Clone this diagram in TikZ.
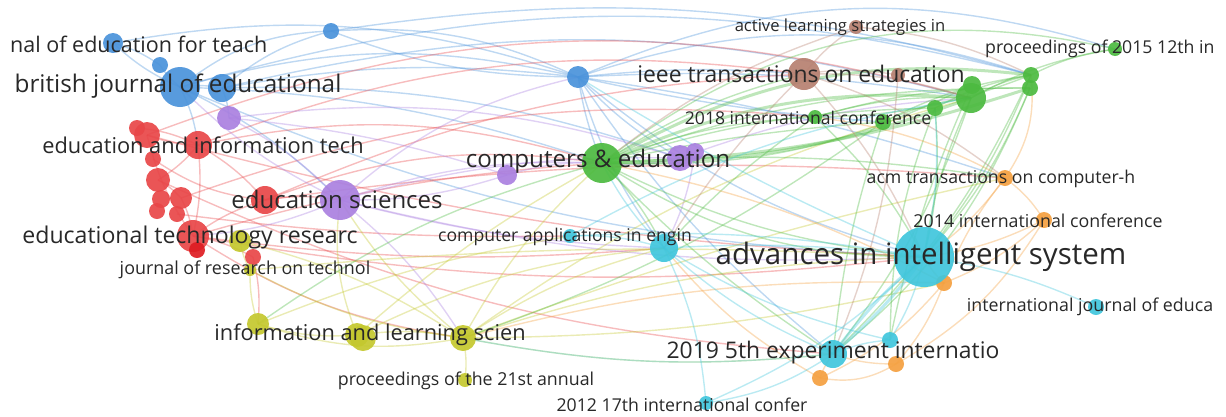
\documentclass[tikz,border=0pt]{standalone}
\usepackage{fontspec}
\setmainfont{Open Sans}
\usetikzlibrary{backgrounds}
\definecolor{cblue}{RGB}{74,146,218}
\definecolor{cred}{RGB}{232,70,72}
\definecolor{cgreen}{RGB}{76,186,64}
\definecolor{cyel}{RGB}{196,200,46}
\definecolor{cpur}{RGB}{170,128,224}
\definecolor{ccyan}{RGB}{64,198,220}
\definecolor{corange}{RGB}{244,160,64}
\definecolor{cbrown}{RGB}{182,128,112}
\definecolor{cdred}{RGB}{222,28,34}
\definecolor{labc}{RGB}{40,40,40}
\tikzset{
  nd/.style={circle, inner sep=0pt, minimum size=#1, fill opacity=0.92},
  lab/.style={font=\fontsize{#1}{#1}\selectfont, text=labc, inner sep=0pt},
  e/.style={draw=#1, draw opacity=0.36, line width=1.4pt},
  ew/.style={draw=#1, draw opacity=0.36, line width=3pt}
}
\begin{document}
\begin{tikzpicture}[x=1pt,y=-1pt, every to/.style={bend left=9}]
\useasboundingbox (0,0) rectangle (1226,416);
% ---------- nodes ----------
% blue
\node[nd=20, fill=cblue] (b1) at (113,43) {};
\node[nd=16, fill=cblue] (b2) at (160,65) {};
\node[nd=40, fill=cblue] (b3) at (180,87) {};
\node[nd=28, fill=cblue] (b4) at (222,88) {};
\node[nd=16, fill=cblue] (b5) at (331,31) {};
\node[nd=22, fill=cblue] (b6) at (578,77) {};
% purple
\node[nd=24, fill=cpur] (p1) at (229,118) {};
\node[nd=40, fill=cpur] (p2) at (340,200) {};
\node[nd=20, fill=cpur] (p3) at (507,175) {};
\node[nd=26, fill=cpur] (p4) at (680,158) {};
\node[nd=18, fill=cpur] (p5) at (695,152) {};
% red
\node[nd=16, fill=cred] (r1) at (137,128) {};
\node[nd=26, fill=cred] (r2) at (147,135) {};
\node[nd=28, fill=cred] (r3) at (198,145) {};
\node[nd=16, fill=cred] (r4) at (153,159) {};
\node[nd=24, fill=cred] (r5) at (158,180) {};
\node[nd=18, fill=cred] (r6) at (161,199) {};
\node[nd=22, fill=cred] (r7) at (181,198) {};
\node[nd=16, fill=cred] (r8) at (157,211) {};
\node[nd=16, fill=cred] (r9) at (177,214) {};
\node[nd=28, fill=cred] (r10) at (265,200) {};
\node[nd=32, fill=cred] (r11) at (193,236) {};
\node[nd=16, fill=cdred] (r12) at (197,250) {};
\node[nd=16, fill=cred] (r13) at (253,257) {};
% yellow
\node[nd=22, fill=cyel] (y1) at (240,241) {};
\node[nd=12, fill=cyel] (y2) at (250,270) {};
\node[nd=22, fill=cyel] (y3) at (258,324) {};
\node[nd=24, fill=cyel] (y4) at (357,335) {};
\node[nd=26, fill=cyel] (y5) at (363,338) {};
\node[nd=26, fill=cyel] (y6) at (463,338) {};
\node[nd=14, fill=cyel] (y7) at (465,380) {};
% green
\node[nd=40, fill=cgreen] (g1) at (602,163) {};
\node[nd=14, fill=cgreen] (g2) at (815,117) {};
\node[nd=16, fill=cgreen] (g3) at (883,122) {};
\node[nd=16, fill=cgreen] (g4) at (935,108) {};
\node[nd=30, fill=cgreen] (g5) at (971,98) {};
\node[nd=18, fill=cgreen] (g6) at (972,85) {};
\node[nd=16, fill=cgreen] (g7) at (1031,75) {};
\node[nd=16, fill=cgreen] (g8) at (1030,88) {};
\node[nd=14, fill=cgreen] (g9) at (1115,49) {};
% brown
\node[nd=32, fill=cbrown] (br1) at (804,74) {};
\node[nd=14, fill=cbrown] (br2) at (856,27) {};
\node[nd=14, fill=cbrown] (br3) at (898,75) {};
% orange
\node[nd=16, fill=corange] (o1) at (1005,178) {};
\node[nd=16, fill=corange] (o2) at (1044,220) {};
\node[nd=16, fill=corange] (o3) at (944,283) {};
\node[nd=16, fill=corange] (o4) at (896,364) {};
\node[nd=16, fill=corange] (o5) at (820,378) {};
% cyan
\node[nd=60, fill=ccyan] (c1) at (924,257) {};
\node[nd=14, fill=ccyan] (c2) at (570,236) {};
\node[nd=28, fill=ccyan] (c3) at (664,248) {};
\node[nd=16, fill=ccyan] (c4) at (1096,307) {};
\node[nd=28, fill=ccyan] (c5) at (833,354) {};
\node[nd=16, fill=ccyan] (c6) at (890,340) {};
\node[nd=14, fill=ccyan] (c7) at (706,403) {};
% ---------- edges ----------
\begin{scope}[on background layer]
% blue
\draw[e=cblue] (b3.center) to (b1.center);
\draw[e=cblue] (b3.center) to (b2.center);
\draw[e=cblue] (b3.center) to (b4.center);
\draw[e=cblue] (b1.center) to (b2.center);
\draw[e=cblue] (b3.center) to[bend left=14] (b6.center);
\draw[e=cblue] (b4.center) to[bend left=8] (b6.center);
\draw[e=cblue] (b3.center) to[bend left=18] (b5.center);
\draw[e=cblue] (b4.center) to[bend left=12] (b5.center);
\draw[e=cblue] (b5.center) to[bend left=14] (b6.center);
\draw[e=cblue] (b5.center) to[bend right=10] (b6.center);
\draw[e=cblue] (b3.center) to[bend left=8] (g1.center);
\draw[e=cblue] (b3.center) to[bend left=15] (g7.center);
\draw[e=cblue] (b4.center) to[bend left=14] (g5.center);
\draw[e=cblue] (b6.center) to[bend right=6] (g1.center);
\draw[e=cblue] (b6.center) to[bend right=10] (c3.center);
\draw[e=cblue] (b6.center) to[bend right=12] (c1.center);
\draw[e=cblue] (b6.center) to[bend left=18] (g7.center);
\draw[e=cblue] (b6.center) to[bend left=6] (g5.center);
\draw[e=cblue] (b5.center) to[bend left=12] (g7.center);
\draw[e=cblue] (b3.center) to (p2.center);
\draw[e=cblue] (b4.center) to (p1.center);
\draw[e=cblue] (b3.center) to (r3.center);
\draw[e=cblue] (b6.center) to[bend right=8] (p4.center);
\draw[e=cblue] (b6.center) to[bend left=5] (br1.center);
\draw[e=cblue] (b1.center) to[bend left=14] (b6.center);
\draw[e=cblue] (b6.center) to[bend left=5] (o1.center);
\draw[e=cblue] (b6.center) to[bend right=8] (c5.center);
\draw[e=cblue] (b4.center) to[bend left=10] (p4.center);
\draw[e=cblue] (b3.center) to[bend right=10] (c1.center);
\draw[e=cblue] (b6.center) to[bend left=20] (g9.center);
\draw[e=cblue] (b6.center) to[bend right=4] (g3.center);
% red
\draw[e=cred] (r3.center) to (r2.center);
\draw[e=cred] (r3.center) to (r5.center);
\draw[e=cred] (r3.center) to (r11.center);
\draw[e=cred] (r3.center) to (r10.center);
\draw[e=cred] (r11.center) to (r10.center);
\draw[e=cred] (r11.center) to (r13.center);
\draw[e=cred] (r5.center) to (r7.center);
\draw[e=cred] (r7.center) to (r11.center);
\draw[e=cred] (r2.center) to[bend right=10] (r11.center);
\draw[e=cred] (r4.center) to[bend right=14] (r10.center);
\draw[e=cred] (r1.center) to[bend left=10] (r3.center);
\draw[e=cred] (r10.center) to[bend left=14] (g1.center);
\draw[e=cred] (r3.center) to[bend left=14] (g1.center);
\draw[e=cred] (r3.center) to[bend left=14] (br1.center);
\draw[e=cred] (r2.center) to[bend left=18] (g5.center);
\draw[e=cred] (r11.center) to[bend right=8] (c1.center);
\draw[e=cred] (r11.center) to[bend left=6] (g1.center);
\draw[e=cred] (r10.center) to (p2.center);
\draw[e=cred] (r13.center) to (y3.center);
\draw[e=cred] (r11.center) to[bend right=6] (c3.center);
\draw[e=cred] (r7.center) to[bend left=12] (g2.center);
\draw[e=cred] (r10.center) to[bend left=10] (br1.center);
\draw[e=cred] (r5.center) to[bend right=10] (c5.center);
\draw[e=cred] (r9.center) to[bend right=4] (c2.center);
\draw[e=cred] (r2.center) to[bend right=6] (c1.center);
\draw[e=cred] (r10.center) to[bend left=6] (o1.center);
\draw[e=cred] (r11.center) to[bend right=12] (y6.center);
% purple
\draw[e=cpur] (p2.center) to[bend left=10] (g1.center);
\draw[e=cpur] (p2.center) to[bend left=8] (p4.center);
\draw[e=cpur] (p2.center) to (b3.center);
\draw[e=cpur] (p2.center) to (r11.center);
\draw[e=cpur] (p2.center) to[bend right=6] (c3.center);
\draw[e=cpur] (p2.center) to[bend right=8] (c1.center);
\draw[e=cpur] (p1.center) to[bend left=12] (p4.center);
\draw[e=cpur] (p3.center) to (g1.center);
\draw[e=cpur] (p3.center) to (p2.center);
\draw[e=cpur] (p4.center) to (g1.center);
\draw[e=cpur] (p4.center) to[bend left=8] (g5.center);
\draw[e=cpur] (p2.center) to (y6.center);
\draw[e=cpur] (p1.center) to (p2.center);
\draw[e=cpur] (p5.center) to (c3.center);
\draw[e=cpur] (p2.center) to[bend left=14] (b6.center);
\draw[e=cpur] (p1.center) to[bend left=6] (p3.center);
% yellow
\draw[e=cyel] (y3.center) to (y2.center);
\draw[e=cyel] (y3.center) to[bend right=10] (y4.center);
\draw[e=cyel] (y4.center) to (y6.center);
\draw[e=cyel] (y6.center) to (y7.center);
\draw[e=cyel] (y6.center) to[bend left=10] (y2.center);
\draw[e=cyel] (y6.center) to (g1.center);
\draw[e=cyel] (y6.center) to[bend left=8] (c1.center);
\draw[e=cyel] (y6.center) to (c3.center);
\draw[e=cyel] (y6.center) to (p2.center);
\draw[e=cyel] (y1.center) to (y6.center);
\draw[e=cyel] (y6.center) to[bend right=8] (c5.center);
\draw[e=cyel] (y4.center) to[bend left=6] (g1.center);
\draw[e=cyel] (y3.center) to[bend right=14] (y6.center);
\draw[e=cyel] (y2.center) to[bend left=4] (c1.center);
\draw[e=cyel] (y6.center) to[bend left=10] (g5.center);
\draw[e=cyel] (y3.center) to[bend left=6] (c2.center);
\draw[e=cyel] (y4.center) to[bend left=14] (p2.center);
\draw[e=cyel] (y2.center) to (y1.center);
\draw[e=cyel] (y6.center) to[bend right=6] (o3.center);
\draw[e=cyel] (y6.center) to[bend left=4] (o1.center);
\draw[e=cyel] (y4.center) to[bend left=10] (c3.center);
% green
\draw[ew=cgreen] (g1.center) to[bend left=14] (g5.center);
\draw[ew=cgreen] (g1.center) to[bend right=10] (g5.center);
\draw[ew=cgreen] (g1.center) to[bend left=18] (g7.center);
\draw[ew=cgreen] (g1.center) to[bend right=8] (g8.center);
\draw[e=cgreen] (g1.center) to (g2.center);
\draw[e=cgreen] (g1.center) to[bend left=4] (g3.center);
\draw[e=cgreen] (g1.center) to[bend left=8] (g4.center);
\draw[e=cgreen] (g1.center) to (br1.center);
\draw[e=cgreen] (g1.center) to[bend right=10] (c1.center);
\draw[e=cgreen] (g1.center) to[bend right=6] (c5.center);
\draw[e=cgreen] (g1.center) to (c3.center);
\draw[e=cgreen] (g2.center) to (g5.center);
\draw[e=cgreen] (g3.center) to (g7.center);
\draw[e=cgreen] (g5.center) to (g7.center);
\draw[e=cgreen] (g5.center) to (g9.center);
\draw[e=cgreen] (g7.center) to (g9.center);
\draw[e=cgreen] (g5.center) to[bend right=8] (c1.center);
\draw[e=cgreen] (g4.center) to (c1.center);
\draw[e=cgreen] (g7.center) to[bend left=8] (c1.center);
\draw[e=cgreen] (g8.center) to[bend left=14] (c5.center);
\draw[e=cgreen] (g5.center) to (c5.center);
\draw[e=cgreen] (g3.center) to[bend right=6] (c5.center);
\draw[e=cgreen] (g2.center) to (c1.center);
\draw[e=cgreen] (g1.center) to[bend left=10] (g8.center);
\draw[e=cgreen] (g2.center) to[bend right=10] (g7.center);
\draw[e=cgreen] (g6.center) to[bend left=14] (g1.center);
\draw[e=cgreen] (g1.center) to[bend right=16] (c1.center);
\draw[e=cgreen] (g1.center) to[bend left=25] (g9.center);
\draw[e=cgreen] (g4.center) to[bend right=10] (c6.center);
\draw[e=cgreen] (g1.center) to[bend left=6] (o1.center);
\draw[e=cgreen] (g7.center) to[bend left=10] (c5.center);
\draw[e=cgreen] (g8.center) to (c1.center);
\draw[e=cgreen] (g6.center) to[bend right=6] (c6.center);
\draw[e=cgreen] (g3.center) to[bend left=8] (y6.center);
\draw[e=cgreen] (g2.center) to[bend right=6] (c3.center);
\draw[e=cgreen] (g1.center) to[bend right=10] (y3.center);
\draw[e=cgreen] (g4.center) to (g7.center);
\draw[e=cgreen] (g3.center) to (g5.center);
\draw[e=cgreen] (g2.center) to[bend left=8] (g8.center);
% brown
\draw[e=cbrown] (br1.center) to (br2.center);
\draw[e=cbrown] (br1.center) to (br3.center);
\draw[e=cbrown] (br1.center) to (g5.center);
\draw[e=cbrown] (br2.center) to[bend left=10] (g7.center);
\draw[e=cbrown] (br1.center) to (c1.center);
\draw[e=cbrown] (br2.center) to[bend right=10] (g1.center);
\draw[e=cbrown] (br3.center) to (c5.center);
\draw[e=cbrown] (br1.center) to[bend left=10] (o1.center);
\draw[e=cbrown] (br1.center) to[bend right=6] (c3.center);
% orange
\draw[e=corange] (o1.center) to[bend left=10] (o2.center);
\draw[e=corange] (o1.center) to[bend right=8] (o3.center);
\draw[e=corange] (o1.center) to (c1.center);
\draw[e=corange] (o2.center) to[bend left=10] (o3.center);
\draw[e=corange] (o3.center) to[bend left=10] (o4.center);
\draw[e=corange] (o3.center) to[bend left=12] (o5.center);
\draw[e=corange] (o4.center) to[bend left=20] (o5.center);
\draw[e=corange] (o4.center) to (c5.center);
\draw[e=corange] (o1.center) to[bend right=20] (g7.center);
\draw[e=corange] (o3.center) to (c1.center);
\draw[e=corange] (o5.center) to (c5.center);
\draw[e=corange] (o2.center) to (c1.center);
\draw[e=corange] (o5.center) to[bend left=10] (c3.center);
\draw[e=corange] (o3.center) to[bend right=8] (y6.center);
\draw[e=corange] (o1.center) to[bend right=10] (g2.center);
\draw[e=corange] (o2.center) to[bend left=14] (o4.center);
\draw[e=corange] (o3.center) to[bend right=8] (g1.center);
% cyan
\draw[ew=ccyan] (c1.center) to[bend right=6] (c5.center);
\draw[ew=ccyan] (c1.center) to[bend left=6] (c5.center);
\draw[e=ccyan] (c1.center) to (c6.center);
\draw[e=ccyan] (c1.center) to[bend left=8] (c4.center);
\draw[e=ccyan] (c1.center) to[bend right=5] (c3.center);
\draw[e=ccyan] (c5.center) to (c6.center);
\draw[e=ccyan] (c5.center) to[bend left=12] (c7.center);
\draw[e=ccyan] (c6.center) to (c3.center);
\draw[e=ccyan] (c1.center) to[bend right=6] (c2.center);
\draw[e=ccyan] (c5.center) to (c3.center);
\draw[e=ccyan] (c7.center) to[bend right=10] (c3.center);
\draw[e=ccyan] (c2.center) to (c3.center);
\draw[e=ccyan] (c1.center) to[bend left=10] (c7.center);
\draw[e=ccyan] (c3.center) to[bend left=8] (g1.center);
\draw[e=ccyan] (c1.center) to[bend right=8] (g4.center);
\draw[e=ccyan] (c2.center) to[bend left=10] (g5.center);
\draw[e=ccyan] (c1.center) to[bend left=4] (b6.center);
\draw[e=ccyan] (c5.center) to[bend left=8] (y6.center);
\end{scope}
% ---------- labels ----------
\node[lab=21.5, anchor=west] (l1) at (10,44) {nal of education for teach};
\node[lab=24.3] (l2) at (178,86) {british journal of educational};
\node[lab=21.8] (l3) at (203,145) {education and information tech};
\node[lab=24] (l4) at (337,199) {education sciences};
\node[lab=23.1] (l5) at (190,237) {educational technology researc};
\node[lab=17.9] (l6) at (245,270) {journal of research on technol};
\node[lab=21.8] (l7) at (370,335) {information and learning scien};
\node[lab=17.8] (l8) at (466,381) {proceedings of the 21st annual};
\node[lab=17.6] (l9) at (565,237) {computer applications in engin};
\node[lab=24.2] (l10) at (598,161) {computers \& education};
\node[lab=16.6] (l11) at (840,27) {active learning strategies in};
\node[lab=22.9] (l12) at (801,74) {ieee transactions on education};
\node[lab=17.6] (l13) at (808,118) {2018 international conference};
\node[lab=17.7, anchor=west] (l14) at (985,49) {proceedings of 2015 12th in};
\node[lab=17.7] (l15) at (1001,179) {acm transactions on computer-h};
\node[lab=17.8] (l16) at (1038,221) {2014 international conference};
\node[lab=29.5] (l17) at (921,257) {advances in intelligent system};
\node[lab=17.8] (l18) at (1090,307) {international journal of educa};
\node[lab=22.9] (l19) at (833,353) {2019 5th experiment internatio};
\node[lab=17.7] (l20) at (682,405) {2012 17th international confer};
\end{tikzpicture}
\end{document}
